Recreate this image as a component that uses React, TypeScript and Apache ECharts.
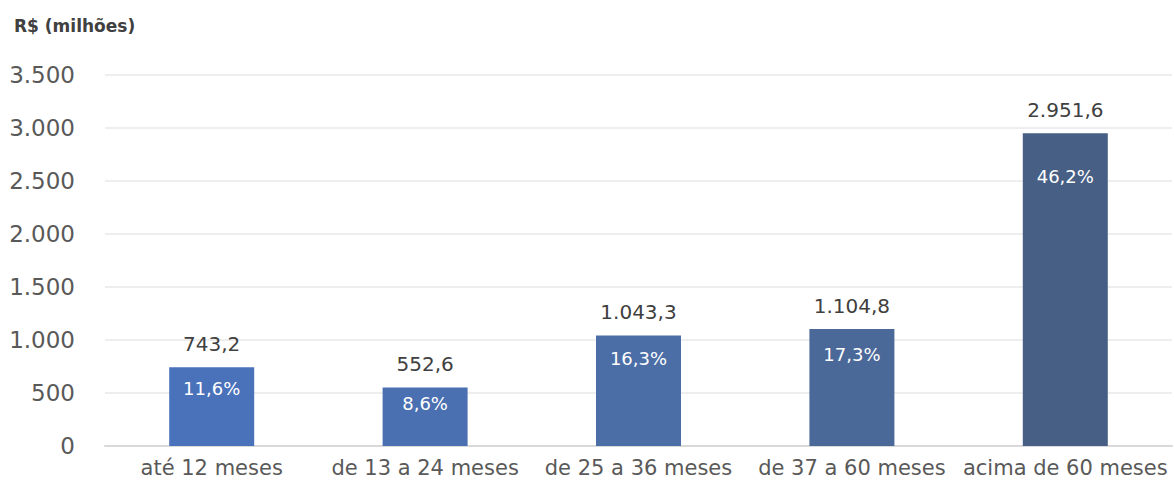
import React, { useEffect, useRef } from "react";
import * as echarts from "echarts";

// Carteira por prazo de vencimento (R$ milhões)
const categories = [
  "até 12 meses",
  "de 13 a 24 meses",
  "de 25 a 36 meses",
  "de 37 a 60 meses",
  "acima de 60 meses",
];
const values = [743.2, 552.6, 1043.3, 1104.8, 2951.6];
const shares = [11.6, 8.6, 16.3, 17.3, 46.2];
const barColors = ["#4a72bb", "#4a70b2", "#4b6ea7", "#4a6898", "#475f85"];
// vertical offset (px) of the share label below each bar's top edge
const shareLabelDistance = [12, 7, 14, 17, 34];

const FONT = "'DejaVu Sans', sans-serif";

const fmtBR = (v: number, decimals: number) => {
  const [intPart, dec] = v.toFixed(decimals).split(".");
  const withDots = intPart.replace(/\B(?=(\d{3})+(?!\d))/g, ".");
  return dec ? `${withDots},${dec}` : withDots;
};

export default function App() {
  const ref = useRef<HTMLDivElement>(null);

  useEffect(() => {
    if (!ref.current) return;
    const chart = echarts.init(ref.current, undefined, { renderer: "svg" });
    chart.setOption({
      animation: false,
      textStyle: { fontFamily: FONT },
      title: {
        text: "R$ (milhões)",
        left: 9,
        top: 12,
        textStyle: { fontFamily: FONT, fontSize: 17, fontWeight: "bold", color: "#404040" },
      },
      grid: { left: 105, right: 2, top: 75, bottom: 46 },
      xAxis: {
        type: "category",
        data: categories,
        axisLine: { lineStyle: { color: "#d9d9d9", width: 2 } },
        axisTick: { show: false },
        axisLabel: { color: "#595959", fontSize: 21, margin: 11, interval: 0, fontFamily: FONT },
      },
      yAxis: {
        type: "value",
        min: 0,
        max: 3500,
        interval: 500,
        axisLine: { show: false },
        axisTick: { show: false },
        splitLine: { lineStyle: { color: "#e8e8e8", width: 1.5 } },
        axisLabel: {
          color: "#595959",
          fontSize: 23,
          margin: 30,
          fontFamily: FONT,
          formatter: (v: number) => fmtBR(v, 0),
        },
      },
      series: [
        {
          type: "bar",
          barWidth: 85,
          data: values.map((v, i) => ({ value: v, itemStyle: { color: barColors[i] } })),
          label: {
            show: true,
            position: "top",
            distance: 13,
            color: "#404040",
            fontSize: 20,
            fontFamily: FONT,
            formatter: (p: any) => fmtBR(p.value, 1),
          },
        },
        {
          type: "bar",
          barWidth: 85,
          barGap: "-100%",
          silent: true,
          itemStyle: { color: "transparent" },
          data: values.map((v, i) => ({
            value: v,
            label: { distance: shareLabelDistance[i] },
          })),
          label: {
            show: true,
            position: "insideTop",
            color: "#ffffff",
            fontSize: 18,
            fontFamily: FONT,
            formatter: (p: any) => `${fmtBR(shares[p.dataIndex], 1)}%`,
          },
        },
      ],
    });
    return () => chart.dispose();
  }, []);

  return (
    <div
      ref={ref}
      style={{ position: "fixed", left: 0, top: 0, width: 1174, height: 492, background: "#ffffff" }}
    />
  );
}
